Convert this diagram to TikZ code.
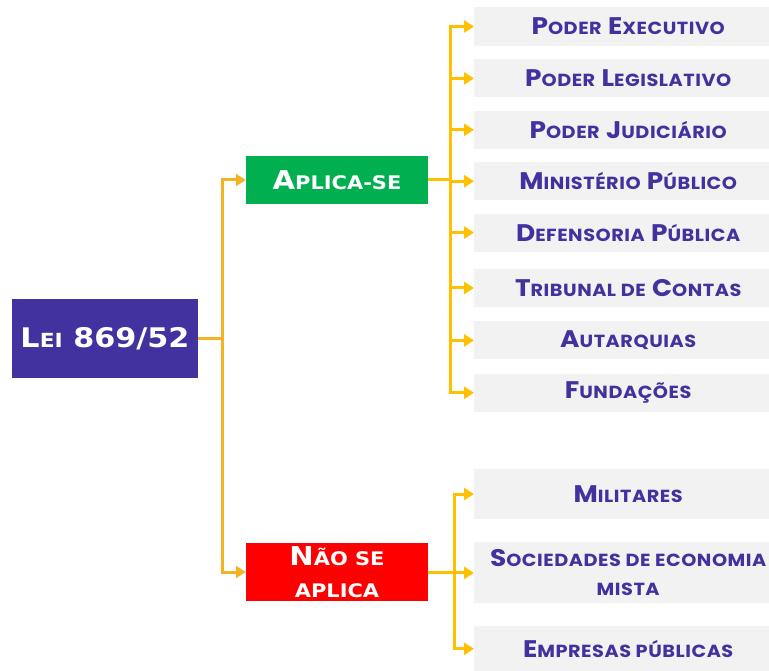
\documentclass[tikz,border=0pt]{standalone}
\usepackage{fontspec}
\usepackage{tikz}
\usetikzlibrary{arrows.meta, positioning, calc}
\newfontfamily\verdfont{DejaVu Sans}[FakeStretch=1.12]
\newfontfamily\verdsc{DejaVu Sans}[FakeStretch=1.12,Scale=0.72]
\newfontfamily\popfont{Poppins}[FakeStretch=1.1,LetterSpace=3]
\newfontfamily\popsc{Poppins}[FakeStretch=1.1,LetterSpace=3,Scale=0.73]
\newcommand{\Vc}[2]{#1{\verdsc #2}}
\newcommand{\Pc}[2]{#1{\popsc #2}}
\definecolor{roxo}{HTML}{4232A0}
\definecolor{verde}{HTML}{00B050}
\definecolor{vermelho}{HTML}{FF0000}
\definecolor{cinza}{HTML}{F2F2F2}
\definecolor{laranja}{HTML}{F5B324}
\definecolor{amarelo}{HTML}{FFC000}
\tikzset{
    lei/.style={rectangle, fill=roxo, text=white, minimum width=186pt, minimum height=79pt, inner sep=0pt, font=\verdfont\bfseries\fontsize{27}{32}\selectfont},
    grupo/.style={rectangle, text=white, minimum width=182pt, inner sep=0pt, align=center, font=\verdfont\bfseries\fontsize{26}{32}\selectfont},
    item/.style={rectangle, fill=cinza, text=roxo, minimum width=308pt, minimum height=38pt, inner sep=0pt, align=center, font=\popfont\bfseries\fontsize{24}{29}\selectfont},
    link/.style={-{Triangle[length=10pt,width=12pt]}, line width=3pt, draw=amarelo}
}
\begin{document}
\begin{tikzpicture}[x=1pt, y=-1pt, node distance=13pt]
    \useasboundingbox (0,0) rectangle (769,671);
    \node[lei] (lei) at (105,338.5) {\Vc{L}{EI} 869/52};
    \node[grupo, fill=verde, minimum height=48pt] (aplica) at (337,180) {\Vc{A}{PLICA-SE}};
    \node[grupo, fill=vermelho, minimum height=58pt] (naoaplica) at (337,572) {\Vc{N}{ÃO SE}\\{\verdsc APLICA}};
    \node[item, anchor=west, minimum height=39pt] (executivo) at (474,26.5) {\Pc{P}{ODER} \Pc{E}{XECUTIVO}};
    \node[item, below=of executivo] (legislativo) {\Pc{P}{ODER} \Pc{L}{EGISLATIVO}};
    \node[item, below=of legislativo] (judiciario) {\Pc{P}{ODER} \Pc{J}{UDICIÁRIO}};
    \node[item, below=of judiciario] (ministerio) {\Pc{M}{INISTÉRIO} \Pc{P}{ÚBLICO}};
    \node[item, below=of ministerio] (defensoria) {\Pc{D}{EFENSORIA} \Pc{P}{ÚBLICA}};
    \node[item, below=17pt of defensoria] (tribunal) {\Pc{T}{RIBUNAL DE} \Pc{C}{ONTAS}};
    \node[item, below=14pt of tribunal] (autarquias) {\Pc{A}{UTARQUIAS}};
    \node[item, below=14pt of autarquias] (fundacoes) {\Pc{F}{UNDAÇÕES}};
    \node[item, anchor=west, minimum height=50pt] (militares) at (474,494) {\Pc{M}{ILITARES}};
    \node[item, below=23pt of militares, minimum height=61pt] (sociedades) {\Pc{S}{OCIEDADES DE ECONOMIA}\\{\popsc MISTA}};
    \node[item, below=22pt of sociedades, minimum height=46pt] (empresas) {\Pc{E}{MPRESAS PÚBLICAS}};
    \coordinate (j1) at ($(lei.east)+(24,0)$);
    \coordinate (j2) at ($(aplica.east)+(22,0)$);
    \coordinate (j3) at ($(naoaplica.east)+(26,0)$);
    \draw[link, draw=laranja] (lei.east) -- (j1) |- (aplica.west);
    \draw[link, draw=laranja] (lei.east) -- (j1) |- (naoaplica.west);
    \foreach \n in {executivo,legislativo,judiciario,ministerio,defensoria,tribunal,autarquias,fundacoes}
        \draw[link] (aplica.east) -- (j2) |- (\n.west);
    \foreach \n in {militares,sociedades,empresas}
        \draw[link] (naoaplica.east) -- (j3) |- (\n.west);
\end{tikzpicture}
\end{document}
